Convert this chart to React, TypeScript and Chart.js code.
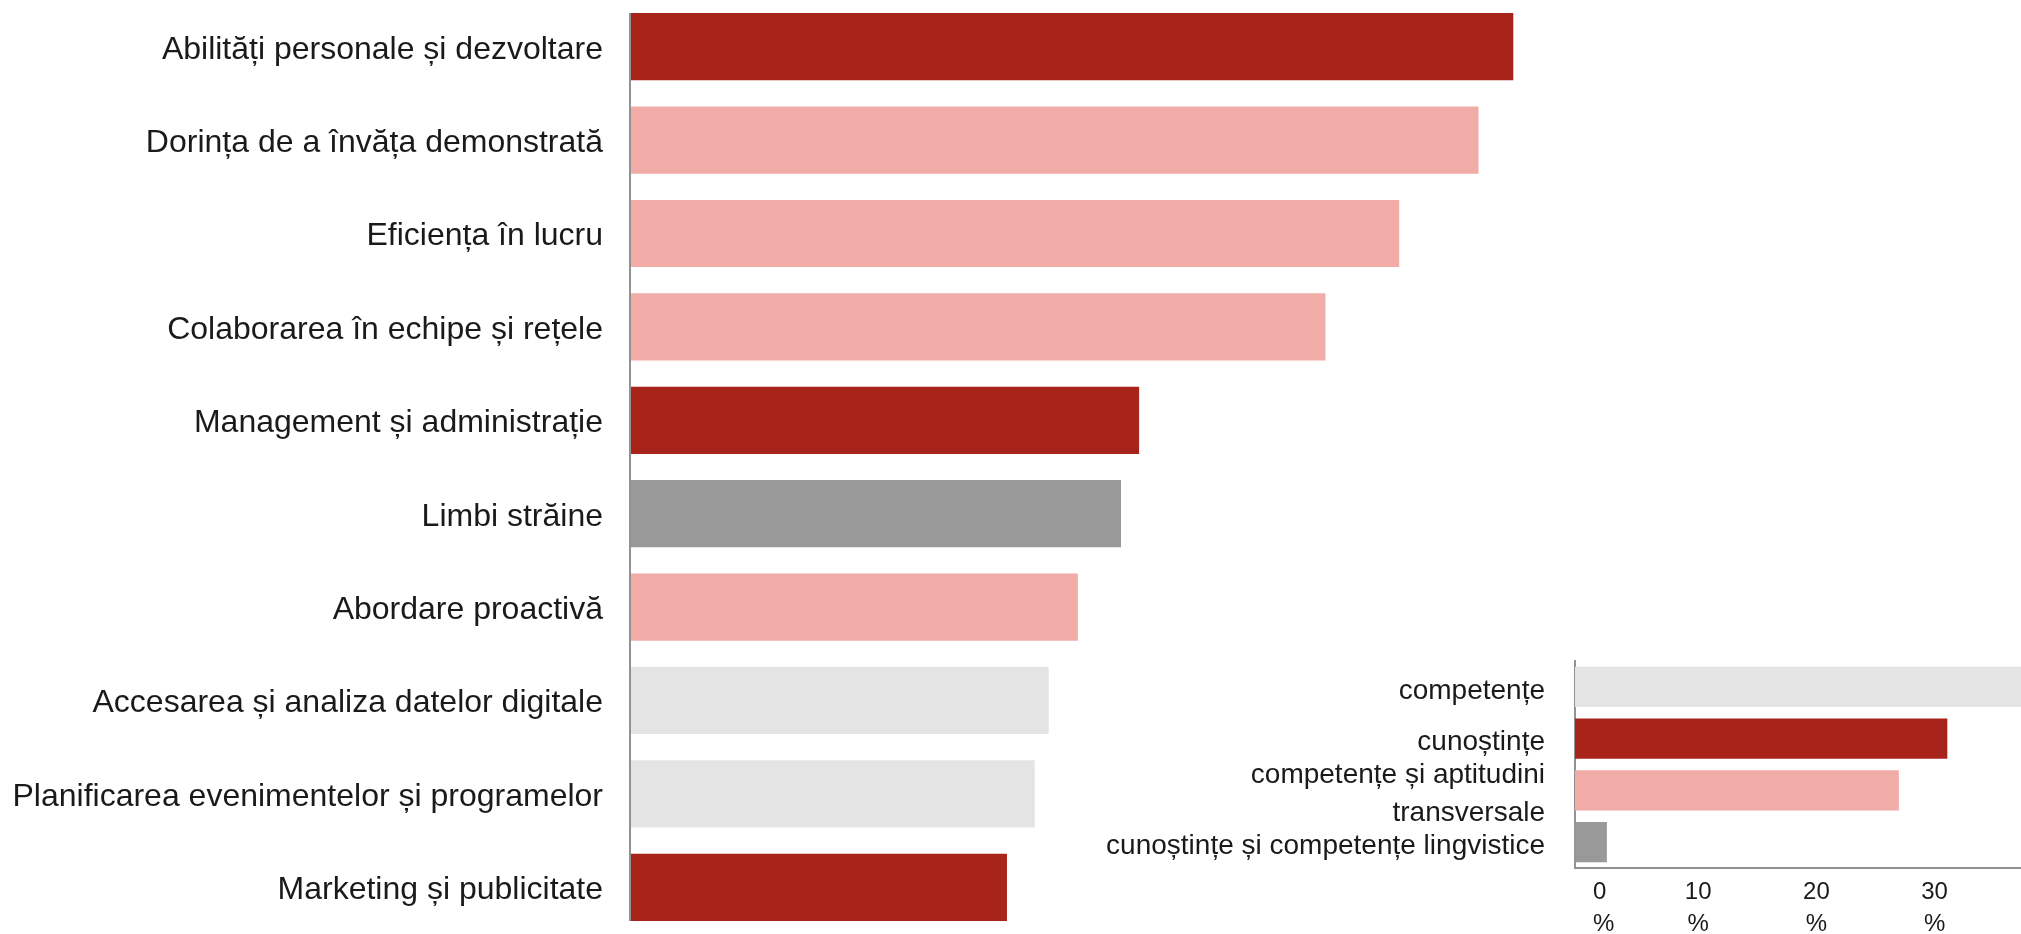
import React, { useEffect, useRef } from 'react';
import { Chart, registerables } from 'chart.js';

Chart.register(...registerables);

// ---- Main chart data ----
const categories = [
  'Abilități personale și dezvoltare',
  'Dorința de a învăța demonstrată',
  'Eficiența în lucru',
  'Colaborarea în echipe și rețele',
  'Management și administrație',
  'Limbi străine',
  'Abordare proactivă',
  'Accesarea și analiza datelor digitale',
  'Planificarea evenimentelor și programelor',
  'Marketing și publicitate',
];
const values = [63.5, 61.0, 55.3, 50.0, 36.6, 35.3, 32.2, 30.1, 29.1, 27.1];
const groups = ['cun', 'trans', 'trans', 'trans', 'cun', 'ling', 'trans', 'comp', 'comp', 'cun'];

// ---- Summary (inset) chart data ----
const summaryCategories: (string | string[])[] = [
  'competențe',
  'cunoștințe',
  ['competențe și aptitudini', 'transversale'],
  'cunoștințe și competențe lingvistice',
];
const summaryGroups = ['comp', 'cun', 'trans', 'ling'];
const summaryValues = [38.5, 31.5, 27.4, 2.7];
const summaryTickUnit = '%';

const groupColors: Record<string, string> = {
  cun: '#A8231A',
  trans: '#F2ACA7',
  ling: '#999999',
  comp: '#E4E4E4',
};

const FONT = '"Liberation Sans", Arial, sans-serif';
const TEXT = '#1a1a1a';
const AXIS = '#929292';

const axisLinePlugin = {
  id: 'axisLine',
  afterDatasetsDraw(chart: any) {
    const els = chart.getDatasetMeta(0).data as any[];
    if (!els.length) return;
    const top = els[0].y - els[0].height / 2;
    const last = els[els.length - 1];
    const bottom = last.y + last.height / 2;
    const ctx = chart.ctx;
    ctx.save();
    ctx.strokeStyle = AXIS;
    ctx.lineWidth = 2;
    ctx.beginPath();
    ctx.moveTo(chart.chartArea.left, top);
    ctx.lineTo(chart.chartArea.left, bottom);
    ctx.stroke();
    ctx.restore();
  },
};

const summaryTickPlugin = {
  id: 'summaryTicks',
  afterDraw(chart: any) {
    const scale = chart.scales.x;
    const ctx = chart.ctx;
    ctx.save();
    ctx.font = `24px ${FONT}`;
    ctx.fillStyle = TEXT;
    ctx.textBaseline = 'middle';
    scale.ticks.forEach((t: any, i: number) => {
      const px = scale.getPixelForValue(t.value);
      const first = i === 0;
      ctx.textAlign = first ? 'left' : 'center';
      const x = first ? px + 18 : px + 5;
      [String(t.value), summaryTickUnit].forEach((ln, j) => {
        ctx.fillText(ln, x, scale.top + 24 + j * 32);
      });
    });
    ctx.restore();
  },
};

const noPad = (s: any) => {
  s.paddingTop = 0;
  s.paddingBottom = 0;
  s.paddingLeft = 0;
  s.paddingRight = 0;
};

export default function App() {
  const mainRef = useRef<HTMLCanvasElement>(null);
  const insetRef = useRef<HTMLCanvasElement>(null);

  useEffect(() => {
    const main = new Chart(mainRef.current!, {
      type: 'bar',
      data: {
        labels: categories,
        datasets: [
          {
            data: values,
            backgroundColor: groups.map((g) => groupColors[g]),
            borderWidth: 0,
            categoryPercentage: 1,
            barPercentage: 0.72,
          },
        ],
      },
      options: {
        indexAxis: 'y',
        animation: false,
        responsive: false,
        devicePixelRatio: 1,
        layout: { padding: 0 },
        plugins: { legend: { display: false }, tooltip: { enabled: false } },
        scales: {
          x: { display: false, min: 0, max: 100 },
          y: {
            afterFit: (s: any) => {
              s.width = 630;
              noPad(s);
            },
            grid: { display: false, drawTicks: false },
            border: { display: false },
            ticks: {
              autoSkip: false,
              padding: 27,
              labelOffset: 3,
              color: TEXT,
              font: { family: FONT, size: 32 },
            },
          },
        },
      },
      plugins: [axisLinePlugin],
    });

    const inset = new Chart(insetRef.current!, {
      type: 'bar',
      data: {
        labels: summaryCategories,
        datasets: [
          {
            data: summaryValues,
            backgroundColor: summaryGroups.map((g) => groupColors[g]),
            borderWidth: 0,
            categoryPercentage: 1,
            barPercentage: 0.78,
          },
        ],
      },
      options: {
        indexAxis: 'y',
        animation: false,
        responsive: false,
        devicePixelRatio: 1,
        layout: { padding: { top: 21, left: 0, right: 0, bottom: 0 } },
        plugins: { legend: { display: false }, tooltip: { enabled: false } },
        scales: {
          x: {
            min: 0,
            max: 50,
            afterFit: (s: any) => {
              s.height = 66;
              noPad(s);
            },
            grid: { display: false, drawTicks: false },
            border: { display: true, color: AXIS, width: 2 },
            ticks: { display: false, stepSize: 10 },
          },
          y: {
            afterFit: (s: any) => {
              s.width = 575;
              noPad(s);
            },
            grid: { display: false, drawTicks: false },
            border: { display: true, color: AXIS, width: 2 },
            ticks: {
              autoSkip: false,
              padding: 30,
              labelOffset: 4,
              color: TEXT,
              font: { family: FONT, size: 28, lineHeight: 1.33 },
            },
          },
        },
      },
      plugins: [summaryTickPlugin],
    });

    return () => {
      main.destroy();
      inset.destroy();
    };
  }, []);

  return (
    <div
      style={{
        position: 'fixed',
        left: 0,
        top: 0,
        width: 2021,
        height: 934,
        overflow: 'hidden',
        background: '#ffffff',
      }}
    >
      <canvas
        ref={mainRef}
        width={2021}
        height={934}
        style={{ position: 'absolute', left: 0, top: 0, width: 2021, height: 934 }}
      />
      <canvas
        ref={insetRef}
        width={1166}
        height={294}
        style={{ position: 'absolute', left: 1000, top: 640, width: 1166, height: 294 }}
      />
    </div>
  );
}
